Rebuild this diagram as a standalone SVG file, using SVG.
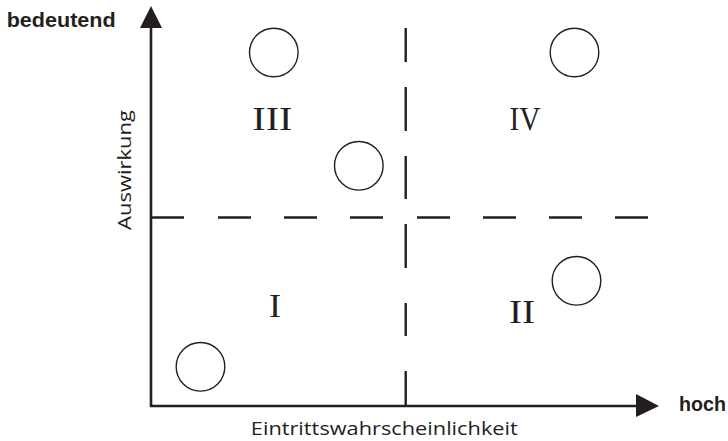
<svg xmlns="http://www.w3.org/2000/svg" width="728" height="441" viewBox="0 0 728 441">
<style>
.ax{stroke:#231f20;stroke-width:2.6;fill:none}
.ds{stroke:#231f20;stroke-width:2.4;fill:none}
.c{stroke:#231f20;stroke-width:1.4;fill:#fff}
.rn{font-family:"Liberation Serif",serif;font-size:34px;fill:#231f20;text-anchor:middle}
.bl{font-family:"Liberation Sans",sans-serif;font-weight:bold;font-size:21px;fill:#231f20}
.lb{font-family:"Open Sans","Liberation Sans",sans-serif;font-size:18px;fill:#231f20;text-anchor:middle}
.ah{fill:#231f20}
</style>
<rect width="728" height="441" fill="#fff"/>
<g id="connectors">
<line class="ax" x1="151" y1="407" x2="151" y2="26"/>
<polygon class="ah" points="151,6 140,28 162,28"/>
<line class="ax" x1="150" y1="406" x2="638" y2="406"/>
<polygon class="ah" points="659,406 636,394 636,417"/>
<path class="ds" d="M151 217.5H184M218 217.5H251M284 217.5H317M350 217.5H383M417 217.5H450M483 217.5H516M549 217.5H582M615 217.5H648"/>
<path class="ds" d="M405.7 28V62M405.7 87V131M405.7 156V199M405.7 224V268M405.7 303V336M405.7 371V405"/>
</g>
<g id="circle-1"><circle class="c" cx="200.5" cy="366.8" r="24.3"/></g>
<g id="circle-2"><circle class="c" cx="273.8" cy="52.5" r="24.3"/></g>
<g id="circle-3"><circle class="c" cx="358.8" cy="165.8" r="24.3"/></g>
<g id="circle-4"><circle class="c" cx="574.5" cy="52.5" r="24.3"/></g>
<g id="circle-5"><circle class="c" cx="576.5" cy="280.8" r="24.3"/></g>
<g id="quadrant-III"><text class="rn" x="272.3" y="130" textLength="40" lengthAdjust="spacingAndGlyphs">III</text></g>
<g id="quadrant-IV"><text class="rn" x="525" y="130" textLength="31" lengthAdjust="spacingAndGlyphs">IV</text></g>
<g id="quadrant-I"><text class="rn" x="275" y="317.3" textLength="12" lengthAdjust="spacingAndGlyphs">I</text></g>
<g id="quadrant-II"><text class="rn" x="522" y="323.3" textLength="26" lengthAdjust="spacingAndGlyphs">II</text></g>
<g id="label-y-top"><text class="bl" x="6.7" y="27" textLength="109" lengthAdjust="spacingAndGlyphs">bedeutend</text></g>
<g id="label-x-end"><text class="bl" x="679" y="410.5" textLength="47" lengthAdjust="spacingAndGlyphs">hoch</text></g>
<g id="label-y"><text class="lb" transform="translate(131,170) rotate(-90)" x="0" y="0" textLength="120" lengthAdjust="spacingAndGlyphs">Auswirkung</text></g>
<g id="label-x"><text class="lb" x="384.3" y="435" textLength="267" lengthAdjust="spacingAndGlyphs">Eintrittswahrscheinlichkeit</text></g>
</svg>
